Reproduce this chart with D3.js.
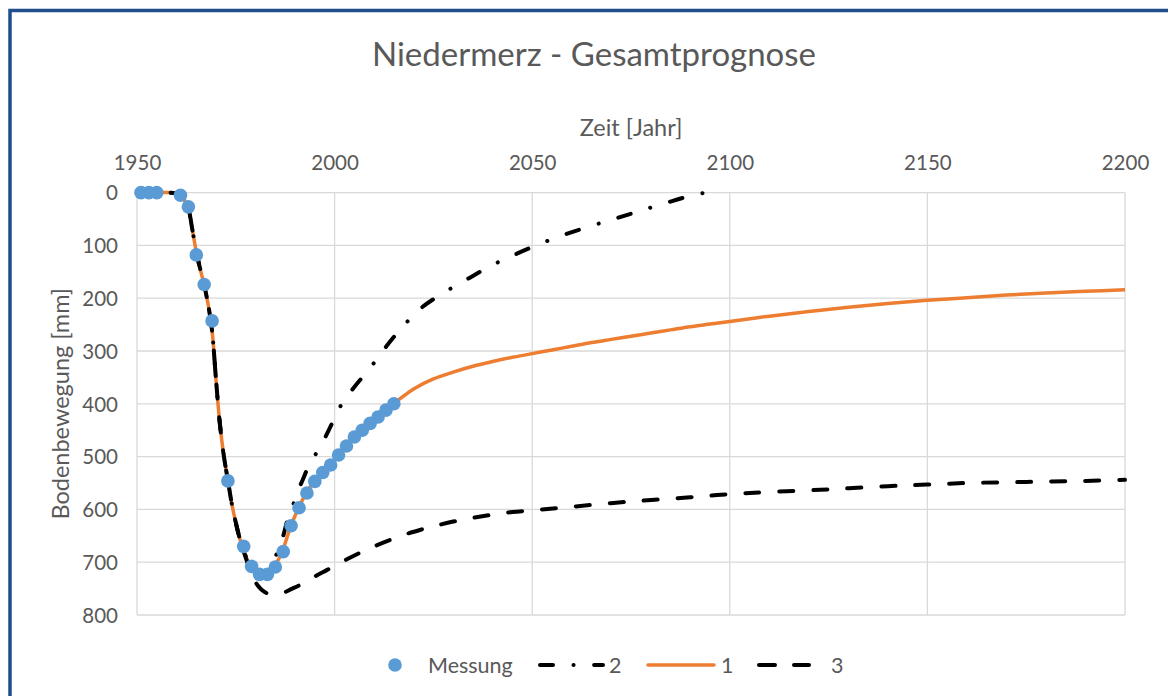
<!DOCTYPE html>
<html>
<head>
<meta charset="utf-8">
<script src="https://cdn.jsdelivr.net/npm/d3@7"></script>
<style>
  html, body { margin: 0; padding: 0; background: #fff; }
  svg { display: block; }
  text { font-family: Lato, "Open Sans", sans-serif; fill: #595959; }
</style>
</head>
<body>
<svg id="chart" width="1168" height="696"></svg>
<script>
// ---- Data ----
const xTicks = [1950, 2000, 2050, 2100, 2150, 2200];
const yTicks = [0, 100, 200, 300, 400, 500, 600, 700, 800];

const messungYears = [1951, 1953, 1955, 1961, 1963, 1965, 1967, 1969, 1973, 1977, 1979, 1981, 1983, 1985, 1987, 1989, 1991, 1993, 1995, 1997, 1999, 2001, 2003, 2005, 2007, 2009, 2011, 2013, 2015];
const messungValues = [0, 0, 0, 5, 27, 118, 174, 243, 546, 670, 708, 723, 723, 709, 680, 631, 597, 569, 547, 530, 516, 497, 480, 463, 450, 437, 425, 412, 400];

// Prognose 1 (orange)
const years1 = [1950, 1955, 1958, 1960, 1961, 1962, 1963, 1964, 1965, 1966, 1967, 1968, 1969, 1970, 1971, 1972, 1973, 1974, 1975, 1976, 1977, 1978, 1979, 1980, 1981, 1982, 1983, 1984, 1985, 1986, 1987, 1988, 1989, 1990, 1991, 1992, 1993, 1994, 1995, 1997, 1999, 2001, 2003, 2005, 2007, 2009, 2011, 2013, 2015, 2017, 2020, 2025, 2030, 2035, 2040, 2045, 2050, 2055, 2060, 2065, 2070, 2075, 2080, 2085, 2090, 2095, 2100, 2110, 2120, 2130, 2140, 2150, 2160, 2170, 2180, 2190, 2200];
const values1 = [0, 0, 0, 2, 5, 14, 30, 70, 112, 145, 175, 212, 262, 355, 440, 500, 545, 590, 625, 655, 678, 697, 711, 720, 724, 724, 721, 715, 705, 692, 675, 652, 630, 612, 596, 580, 567, 555, 545, 528, 514, 497, 480, 463, 450, 437, 425, 412, 400, 388, 372, 353, 340, 329, 320, 312, 305, 298, 291, 284, 278, 272, 266, 260, 254, 249, 244, 234, 225, 217, 210, 204, 199, 194, 190, 187, 184];

// Prognose 2 (dash-dot)
const years2 = [1950, 1955, 1958, 1960, 1961, 1962, 1963, 1964, 1965, 1966, 1967, 1968, 1969, 1970, 1971, 1972, 1973, 1974, 1975, 1976, 1977, 1978, 1979, 1980, 1981, 1982, 1983, 1984, 1985, 1986, 1987, 1988, 1989, 1990, 1991, 1992, 1993, 1994, 1996, 1998, 2000, 2002, 2005, 2009, 2013, 2017, 2022, 2028, 2034, 2040, 2046, 2052, 2058, 2065, 2072, 2078, 2085, 2091, 2094];
const values2 = [0, 0, 0, 2, 5, 14, 30, 70, 112, 145, 175, 212, 262, 355, 440, 500, 545, 590, 625, 655, 678, 697, 711, 722, 728, 722, 712, 703, 690, 672, 650, 622, 600, 582, 560, 543, 525, 510, 486, 458, 427, 398, 368, 332, 292, 256, 218, 188, 162, 137, 116, 97, 80, 63, 47, 33, 17, 4, 0];

// Prognose 3 (dashed)
const years3 = [1950, 1955, 1958, 1960, 1961, 1962, 1963, 1964, 1965, 1966, 1967, 1968, 1969, 1970, 1971, 1972, 1973, 1974, 1975, 1976, 1977, 1978, 1979, 1980, 1981, 1982, 1983, 1985, 1987, 1989, 1991, 1993, 1995, 1998, 2001, 2004, 2007, 2010, 2014, 2018, 2022, 2025, 2030, 2035, 2040, 2045, 2050, 2060, 2075, 2090, 2100, 2110, 2125, 2140, 2150, 2160, 2175, 2190, 2200];
const values3 = [0, 0, 0, 2, 5, 14, 30, 70, 112, 145, 175, 212, 262, 355, 440, 500, 545, 590, 625, 655, 680, 702, 722, 738, 748, 755, 759, 761, 758, 751, 744, 736, 727, 715, 703, 691, 680, 670, 658, 647, 638, 632, 623, 616, 610, 605, 602, 595, 585, 577, 571, 567, 562, 556, 553, 550, 548, 546, 544];

const legendLabels = ["Messung", "2", "1", "3"];

// ---- Layout ----
const svg = d3.select("#chart");
const plot = { left: 137, right: 1125, top: 192.6, bottom: 615 };
const textColor = "#595959";
const gridColor = "#d9d9d9";
const orange = "#ED7D31";
const blue = "#5B9BD5";

// Chart border
svg.append("rect")
  .attr("x", 10).attr("y", 10.5)
  .attr("width", 1200).attr("height", 800)
  .attr("fill", "none")
  .attr("stroke", "#1F4E8C")
  .attr("stroke-width", 3.5);

const x = d3.scaleLinear().domain([1950, 2200]).range([plot.left, plot.right]);
const y = d3.scaleLinear().domain([0, 800]).range([plot.top, plot.bottom]);

// Gridlines
const grid = svg.append("g");
grid.selectAll("line.v").data(xTicks).join("line")
  .attr("x1", d => x(d)).attr("x2", d => x(d))
  .attr("y1", plot.top).attr("y2", plot.bottom)
  .attr("stroke", gridColor).attr("stroke-width", 1.3);
grid.selectAll("line.h").data(yTicks).join("line")
  .attr("x1", plot.left).attr("x2", plot.right)
  .attr("y1", d => y(d)).attr("y2", d => y(d))
  .attr("stroke", gridColor).attr("stroke-width", 1.3);

// Axes (labels only)
const xAxis = d3.axisTop(x).tickValues(xTicks).tickFormat(d3.format("d")).tickSize(0).tickPadding(0);
const gx = svg.append("g").attr("transform", `translate(0,${plot.top - 23})`).call(xAxis);
gx.select(".domain").remove();
gx.selectAll("text").attr("font-size", 20.5).attr("fill", textColor)
  .attr("font-family", "Lato, sans-serif").attr("dy", "0");

const yAxis = d3.axisLeft(y).tickValues(yTicks).tickFormat(d3.format("d")).tickSize(0).tickPadding(0);
const gy = svg.append("g").attr("transform", `translate(${plot.left - 19},0)`).call(yAxis);
gy.select(".domain").remove();
gy.selectAll("text").attr("font-size", 20.5).attr("fill", textColor)
  .attr("font-family", "Lato, sans-serif").attr("dy", "0.36em");

// Titles
svg.append("text")
  .attr("x", 594).attr("y", 66)
  .attr("text-anchor", "middle")
  .attr("font-size", 33)
  .text("Niedermerz - Gesamtprognose");

svg.append("text")
  .attr("x", (plot.left + plot.right) / 2).attr("y", 136)
  .attr("text-anchor", "middle")
  .attr("font-size", 23.5)
  .text("Zeit [Jahr]");

svg.append("text")
  .attr("transform", `translate(69,${(plot.top + plot.bottom) / 2}) rotate(-90)`)
  .attr("text-anchor", "middle")
  .attr("font-size", 23.5)
  .text("Bodenbewegung [mm]");

// Clip
svg.append("clipPath").attr("id", "clip").append("rect")
  .attr("x", plot.left - 10).attr("y", plot.top - 10)
  .attr("width", plot.right - plot.left + 12).attr("height", plot.bottom - plot.top + 12);

const line = d3.line().x(d => x(d[0])).y(d => y(d[1])).curve(d3.curveCatmullRom.alpha(0.5));

const lines = svg.append("g").attr("clip-path", "url(#clip)");
lines.append("path")
  .attr("d", line(d3.zip(years1, values1)))
  .attr("fill", "none").attr("stroke", orange).attr("stroke-width", 3.5)
  .attr("stroke-linejoin", "round");
lines.append("path")
  .attr("d", line(d3.zip(years2, values2)))
  .attr("fill", "none").attr("stroke", "#000").attr("stroke-width", 4)
  .attr("stroke-linecap", "round")
  .attr("stroke-dasharray", "13,20.5,0.1,20.5");
lines.append("path")
  .attr("d", line(d3.zip(years3, values3)))
  .attr("fill", "none").attr("stroke", "#000").attr("stroke-width", 4)
  .attr("stroke-linecap", "round")
  .attr("stroke-dasharray", "14,20");

// Measurements
svg.append("g").selectAll("circle")
  .data(d3.zip(messungYears, messungValues)).join("circle")
  .attr("cx", d => x(d[0])).attr("cy", d => y(d[1]))
  .attr("r", 6.8).attr("fill", blue);

// Legend
const ly = 665;
const lg = svg.append("g");
const legendFont = 21.5;
lg.append("circle").attr("cx", 395).attr("cy", ly).attr("r", 6.8).attr("fill", blue);
lg.append("text").attr("x", 428).attr("y", ly).attr("dy", "0.35em").attr("font-size", legendFont).text(legendLabels[0]);

lg.append("line").attr("x1", 540).attr("x2", 603).attr("y1", ly).attr("y2", ly)
  .attr("stroke", "#000").attr("stroke-width", 4).attr("stroke-linecap", "round")
  .attr("stroke-dasharray", "13,20.5,0.1,20.5");
lg.append("text").attr("x", 609).attr("y", ly).attr("dy", "0.35em").attr("font-size", legendFont).text(legendLabels[1]);

lg.append("line").attr("x1", 648).attr("x2", 714).attr("y1", ly).attr("y2", ly)
  .attr("stroke", orange).attr("stroke-width", 3.5).attr("stroke-linecap", "round");
lg.append("text").attr("x", 721).attr("y", ly).attr("dy", "0.35em").attr("font-size", legendFont).text(legendLabels[2]);

lg.append("line").attr("x1", 759).attr("x2", 809).attr("y1", ly).attr("y2", ly)
  .attr("stroke", "#000").attr("stroke-width", 4).attr("stroke-linecap", "round")
  .attr("stroke-dasharray", "16,19");
lg.append("text").attr("x", 831).attr("y", ly).attr("dy", "0.35em").attr("font-size", legendFont).text(legendLabels[3]);
</script>
</body>
</html>
